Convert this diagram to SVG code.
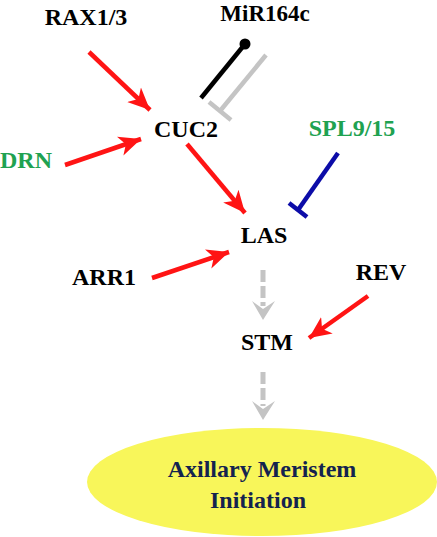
<svg xmlns="http://www.w3.org/2000/svg" width="437" height="537" viewBox="0 0 437 537">
<style>
.t{font-family:"Liberation Serif","Times New Roman",serif;font-weight:bold;font-size:24px;text-anchor:middle}
.k{fill:#000}
.g{fill:#1fa251}
.red{stroke:#ff1414;stroke-width:4.5;fill:none;marker-end:url(#ra)}
.gr{stroke:#c4c4c4;stroke-width:5;fill:none;stroke-dasharray:12,4}
</style>
<defs>
<marker id="ra" markerUnits="userSpaceOnUse" markerWidth="24" markerHeight="24" viewBox="0 0 24 24" refX="22" refY="12" orient="auto">
<path d="M0,2 L22,12 L0,22 L6,12 Z" fill="#ff1414"/>
</marker>
</defs>
<g id="edges">
<line class="red" x1="89" y1="52" x2="150" y2="110"/>
<line class="red" x1="65" y1="165" x2="141" y2="139"/>
<line class="red" x1="187" y1="144" x2="245" y2="213"/>
<line class="red" x1="152" y1="278" x2="229" y2="252"/>
<line class="red" x1="368" y1="296" x2="309" y2="338"/>
<g id="mir-black">
<line x1="245" y1="44" x2="201" y2="98" stroke="#000" stroke-width="4.5"/>
<circle cx="245" cy="44" r="5.5" fill="#000"/>
</g>
<g id="mir-grey">
<line x1="266" y1="55" x2="220" y2="111" stroke="#c4c4c4" stroke-width="4.5"/>
<line x1="209" y1="102" x2="231" y2="120" stroke="#c4c4c4" stroke-width="4.5"/>
</g>
<g id="spl-inh">
<line x1="338" y1="153" x2="298" y2="210" stroke="#0c0ca8" stroke-width="4.5"/>
<line x1="289" y1="203" x2="307" y2="217" stroke="#0c0ca8" stroke-width="4.5"/>
</g>
<g id="las-stm">
<line class="gr" x1="263" y1="270" x2="263" y2="306"/>
<polygon points="252,301 263,320 275,301 263,309" fill="#c4c4c4"/>
</g>
<g id="stm-ami">
<line class="gr" x1="263" y1="372" x2="263" y2="406"/>
<polygon points="252,401 263,420 275,401 263,409" fill="#c4c4c4"/>
</g>
</g>
<g id="RAX13"><text class="t k" x="86" y="25">RAX1/3</text></g>
<g id="MiR164c"><text class="t k" x="265" y="21" style="font-size:23px">MiR164c</text></g>
<g id="CUC2"><text class="t k" x="186" y="137">CUC2</text></g>
<g id="SPL915"><text class="t g" x="352" y="136">SPL9/15</text></g>
<g id="DRN"><text class="t g" x="26" y="168">DRN</text></g>
<g id="LAS"><text class="t k" x="264" y="243">LAS</text></g>
<g id="ARR1"><text class="t k" x="104" y="285">ARR1</text></g>
<g id="REV"><text class="t k" x="381" y="280">REV</text></g>
<g id="STM"><text class="t k" x="267" y="350">STM</text></g>
<g id="AMI">
<ellipse cx="262" cy="482" rx="175" ry="54" fill="#f8f65a"/>
<text class="t" fill="#14234f" x="262" y="477">Axillary Meristem</text>
<text class="t" fill="#14234f" x="258" y="508">Initiation</text>
</g>
</svg>
